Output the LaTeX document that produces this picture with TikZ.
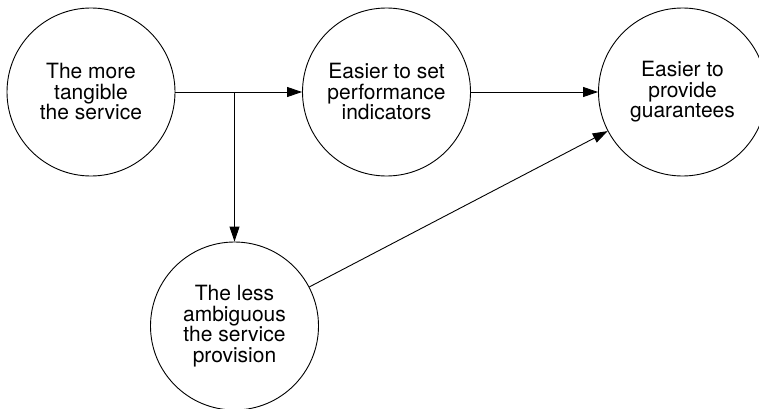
\documentclass[tikz,border=0pt]{standalone}
\usepackage{fontspec}
\setmainfont{TeX Gyre Heros}
\usetikzlibrary{arrows.meta}
\begin{document}
\begin{tikzpicture}[x=1pt,y=1pt,line width=0.9pt,
  idea/.style={circle,draw,minimum size=168pt,inner sep=0pt,align=center,
    font=\fontsize{21}{20.5}\selectfont},
  link/.style={-{Triangle[length=15pt,width=10pt]}}]
\useasboundingbox (0,0) rectangle (759,408);
\node[idea] (tangible)   at (91,316)    {The more\\tangible\\the service};
\node[idea] (indicators) at (386.5,316) {Easier to set\\performance\\indicators};
\node[idea] (guarantees) at (682.5,316) {Easier to\\provide\\guarantees};
\node[idea] (ambiguous)  at (234.5,82)  {The less\\ambiguous\\the service\\provision};
\coordinate (split) at (ambiguous.north |- tangible.east);
\draw[link] (tangible) -- (indicators);
\draw[link] (split) -- (ambiguous);
\draw[link] (indicators) -- (guarantees);
\draw[link] (ambiguous) -- (guarantees);
\end{tikzpicture}
\end{document}
